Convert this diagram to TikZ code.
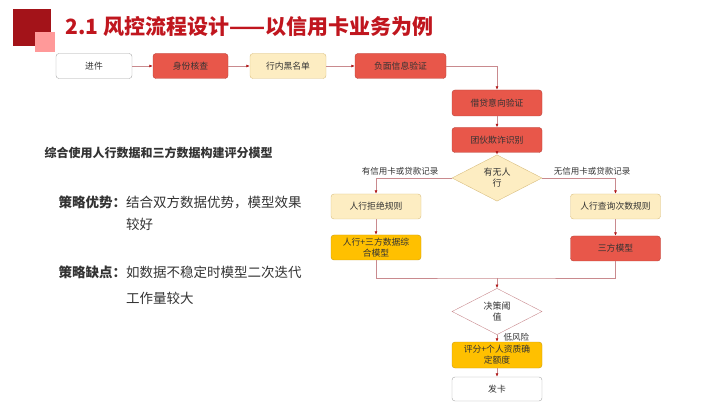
\documentclass[tikz,border=0pt]{standalone}
\usepackage{fontspec}
\setmainfont{Noto Sans CJK SC}
\usepackage{xcolor}
\definecolor{myred}{HTML}{E8574A}
\definecolor{myreddark}{HTML}{B8423A}
\definecolor{myyellow}{HTML}{FDEDC2}
\definecolor{myyellowdark}{HTML}{D9BE80}
\definecolor{myorange}{HTML}{FFC000}
\definecolor{myorangedark}{HTML}{C99A10}
\definecolor{mytitle}{HTML}{C0161E}
\definecolor{myline}{HTML}{C98A8E}
\definecolor{myarrow}{HTML}{B01818}
\definecolor{mytext}{HTML}{333333}
\usetikzlibrary{shapes.geometric}
\usetikzlibrary{arrows.meta}

\begin{document}
\begin{tikzpicture}[x=1pt,y=-1pt,
    box/.style={draw, rounded corners=3pt, minimum height=25pt, minimum width=90pt, align=center, text=mytext, font=\fontsize{8.8}{11}\selectfont, inner sep=1pt},
    plainbox/.style={box, fill=white, draw=gray!70},
    redbox/.style={box, fill=myred, draw=myreddark},
    yellowbox/.style={box, fill=myyellow, draw=myyellowdark},
    orangebox/.style={box, fill=myorange, draw=myorangedark},
    decision/.style={diamond, draw, minimum width=90pt, minimum height=36pt, inner sep=0pt, align=center, text=mytext, font=\fontsize{9}{11}\selectfont},
    flow/.style={draw=myline, line width=0.6pt, -{Latex[length=3.5pt, width=3pt, color=myarrow]}},
    mergeline/.style={draw=myline, line width=0.6pt},
    note/.style={text=mytext, font=\fontsize{8.5}{10}\selectfont}
  ]
  \useasboundingbox (0,0) rectangle (720,403);

  % title
  \fill[mytitle!85!black] (13,9) rectangle (51,46);
  \fill[red!40!white] (35,32) rectangle (55,52);
  \node[anchor=west, text=mytitle, font=\fontsize{21}{24}\selectfont\bfseries] (title) at (62,27) {2.1 风控流程设计——以信用卡业务为例};

  % left text
  \node[anchor=west, text=mytext, font=\fontsize{12}{14}\selectfont\bfseries] (summary) at (41,153) {综合使用人行数据和三方数据构建评分模型};
  \node[anchor=north west, align=left, text=mytext, font=\fontsize{13.5}{22}\selectfont] (pros) at (55,192)
    {\textbf{策略优势：}结合双方数据优势，模型效果\\\phantom{策略优势：}较好};
  \node[anchor=north west, align=left, text=mytext, font=\fontsize{13.5}{26}\selectfont] (cons) at (55,262)
    {\textbf{策略缺点：}如数据不稳定时模型二次迭代\\\phantom{策略缺点：}工作量较大};

  % first row
  \node[plainbox, minimum width=76pt] (jinjian) at (94,66) {进件};
  \node[redbox, minimum width=75pt] (shenfen) at (190.5,66) {身份核查};
  \node[yellowbox, minimum width=76pt] (heimingdan) at (288,66) {行内黑名单};
  \node[redbox, minimum width=91pt] (fumian) at (400.5,66) {负面信息验证};

  % main column
  \node[redbox, minimum height=26pt] (jiedai) at (497,103) {借贷意向验证};
  \node[redbox] (tuanhuo) at (497,140) {团伙欺诈识别};
  \node[decision, fill=myyellow, draw=myyellowdark] (renhang) at (497,178) {有无人\\行};

  % branches
  \node[yellowbox] (jujue) at (376,206.5) {人行拒绝规则};
  \node[orangebox] (zonghe) at (376,247.5) {人行+三方数据综\\合模型};
  \node[yellowbox] (chaxun) at (615.5,206.5) {人行查询次数规则};
  \node[redbox] (sanfang) at (615.5,248.5) {三方模型};
  \node[note] (youjilu) at (400,171) {有信用卡或贷款记录};
  \node[note] (wujilu) at (592,171) {无信用卡或贷款记录};

  % decision and output
  \coordinate (merge) at (497,278);
  \node[decision, fill=white, draw=myline, minimum height=35pt] (yuzhi) at (497,311.5) {决策阈\\值};
  \node[orangebox, minimum height=26pt] (pingfen) at (497,355) {评分+个人资质确\\定额度};
  \node[plainbox, minimum height=24pt] (faka) at (497,389) {发卡};

  % connectors
  \draw[flow] (jinjian) -- (shenfen);
  \draw[flow] (shenfen) -- (heimingdan);
  \draw[flow] (heimingdan) -- (fumian);
  \draw[flow] (fumian.east) -| (jiedai.north);
  \draw[flow] (jiedai) -- (tuanhuo);
  \draw[flow] (tuanhuo) -- (renhang);
  \draw[flow] (renhang.west) -| (jujue.north);
  \draw[flow] (renhang.east) -| (chaxun.north);
  \draw[flow] (jujue) -- (zonghe);
  \draw[flow] (chaxun) -- (sanfang);
  \draw[mergeline] (zonghe.south) |- (merge) -| (sanfang.south);
  \draw[flow] (merge) -- (yuzhi.north);
  \draw[flow] (yuzhi) -- (pingfen) node[note, pos=0.3, anchor=west, xshift=3pt] (difengxian) {低风险};
  \draw[flow] (pingfen) -- (faka);
\end{tikzpicture}
\end{document}
